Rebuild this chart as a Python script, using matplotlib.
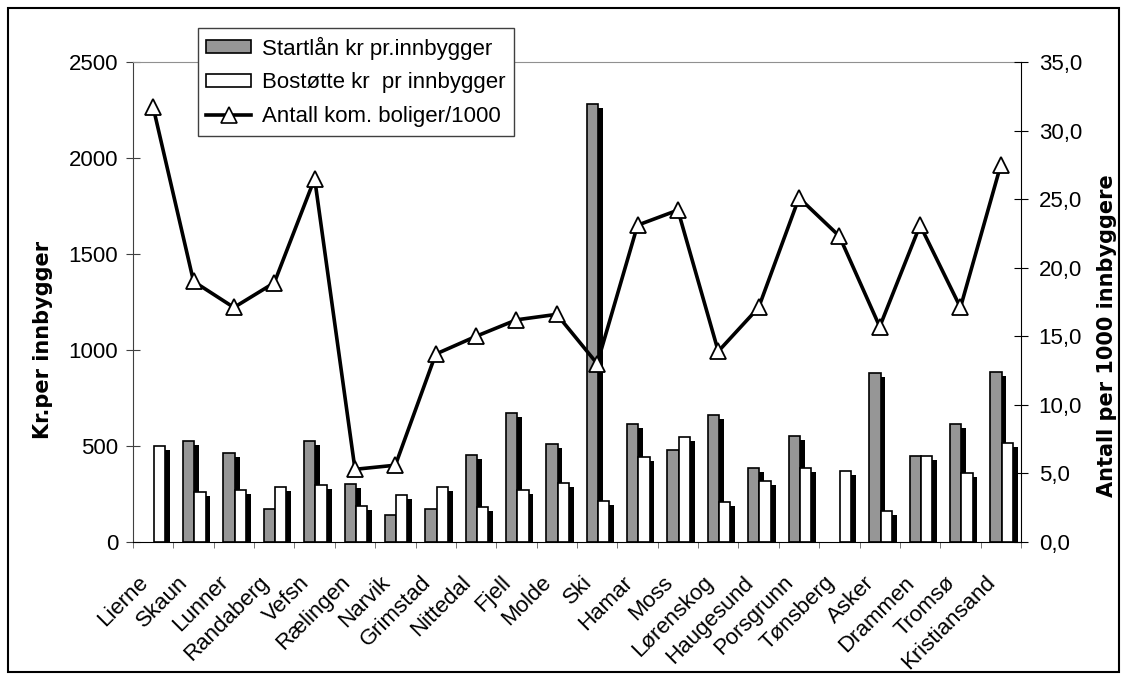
import matplotlib.pyplot as plt
import numpy as np
from matplotlib.transforms import ScaledTranslation
from matplotlib.patches import Rectangle, Patch
from matplotlib.lines import Line2D

plt.rcParams['font.family'] = ['Liberation Sans', 'DejaVu Sans']

kommuner = ['Lierne', 'Skaun', 'Lunner', 'Randaberg', 'Vefsn', 'Rælingen', 'Narvik',
            'Grimstad', 'Nittedal', 'Fjell', 'Molde', 'Ski', 'Hamar', 'Moss', 'Lørenskog',
            'Haugesund', 'Porsgrunn', 'Tønsberg', 'Asker', 'Drammen', 'Tromsø', 'Kristiansand']
startlaan = [0, 526, 463, 172, 526, 300, 143, 172, 453, 670, 509, 2283, 616, 480, 662,
             388, 552, 0, 881, 446, 615, 888]
bostotte = [500, 261, 272, 287, 297, 188, 245, 287, 180, 270, 306, 214, 444, 545, 207,
            317, 386, 369, 162, 446, 360, 514]
boliger = [31.7, 19.0, 17.1, 18.9, 26.5, 5.3, 5.6, 13.7, 15.0, 16.2, 16.6, 13.0, 23.1, 24.2,
           13.9, 17.1, 25.1, 22.3, 15.7, 23.1, 17.1, 27.5]

grey = '#969696'
fs = 16

fig = plt.figure(figsize=(11.27, 6.8), dpi=100)
ax = fig.add_axes([133/1127, 1-542/680, 888/1127, 480/680])
ax2 = ax.twinx()

x = np.arange(len(kommuner))
w = 0.28
sl = np.array(startlaan, dtype=float)
bs = np.array(bostotte, dtype=float)

# skygge (svart, litt til hoyre og ned)
dy = 21
ax.bar(x - 0.12 + 0.12, np.clip(sl - dy, 0, None), w, color='black', lw=0, zorder=1)
ax.bar(x + 0.16 + 0.12, np.clip(bs - dy, 0, None), w, color='black', lw=0, zorder=1)
ax.bar(x - 0.12, sl, w, color=grey, edgecolor='black',
       linewidth=[1.2 if v > 0 else 0 for v in sl], zorder=2)
ax.bar(x + 0.16, bs, w, color='white', edgecolor='black',
       linewidth=[1.2 if v > 0 else 0 for v in bs], zorder=3)

ax2.plot(x, boliger, color='black', lw=2.6, marker='^', ms=12, mfc='white',
         mec='black', mew=1.3, zorder=5)

ax.set_xlim(-0.5, len(kommuner) - 0.5)
ax.set_ylim(0, 2500)
ax2.set_ylim(0, 35)
ax.set_yticks(np.arange(0, 2501, 500))
ax2.set_yticks(np.arange(0, 35.1, 5))
ax2.set_yticklabels(['{:.1f}'.format(v).replace('.', ',') for v in np.arange(0, 35.1, 5)])

ax.set_xticks(x)
ax.set_xticklabels(kommuner, rotation=45, ha='right', va='center', rotation_mode='anchor')
ax.set_xticks(np.arange(-0.5, len(kommuner), 1), minor=True)
ax.tick_params(axis='x', which='major', length=0, pad=27, labelsize=fs)
ax.tick_params(axis='x', which='minor', length=4, color='#606060', direction='out')
off = ScaledTranslation(-6/72, 0, fig.dpi_scale_trans)
for lab in ax.get_xticklabels():
    lab.set_transform(lab.get_transform() + off)

ax.tick_params(axis='y', direction='inout', length=9.5, color='#404040', labelsize=fs, pad=6)
ax2.tick_params(axis='y', direction='inout', length=9.5, color='black', labelsize=fs, pad=8)

ax.spines['right'].set_visible(False)
ax.spines['top'].set_color('#909090')
ax.spines['left'].set_color('#404040')
ax.spines['bottom'].set_color('black')
for s in ['left', 'top', 'bottom']:
    ax2.spines[s].set_visible(False)
ax2.spines['right'].set_color('black')

ax.set_ylabel('Kr.per innbygger', fontsize=15, fontweight='bold', family='DejaVu Sans')
ax.yaxis.set_label_coords(-0.0905, 0.42)
ax2.set_ylabel('Antall per 1000 innbyggere', fontsize=15, fontweight='bold', family='DejaVu Sans')
ax2.yaxis.set_label_coords(1.0856, 0.43)

handles = [Patch(facecolor=grey, edgecolor='black', lw=1.2),
           Patch(facecolor='white', edgecolor='black', lw=1.2),
           Line2D([], [], color='black', lw=2.6, marker='^', ms=11, mfc='white', mec='black', mew=1.2)]
labels = ['Startlån kr pr.innbygger', 'Bostøtte kr  pr innbygger', 'Antall kom. boliger/1000']
leg = ax2.legend(handles, labels, loc='upper left', bbox_to_anchor=(198/1127, 1-28/680),
                 bbox_transform=fig.transFigure, borderaxespad=0, fontsize=16,
                 fancybox=False, framealpha=1, edgecolor='#404040', borderpad=0.38,
                 handlelength=2.0, handleheight=0.5, handletextpad=0.5, labelspacing=0.58)
leg.get_frame().set_linewidth(1.0)
leg.set_zorder(10)

fig.patches.append(Rectangle((8/1127, 8/680), 1111/1127, 664/680, transform=fig.transFigure,
                             fill=False, edgecolor='black', lw=1.5))

fig.savefig('out.png', dpi=100)
